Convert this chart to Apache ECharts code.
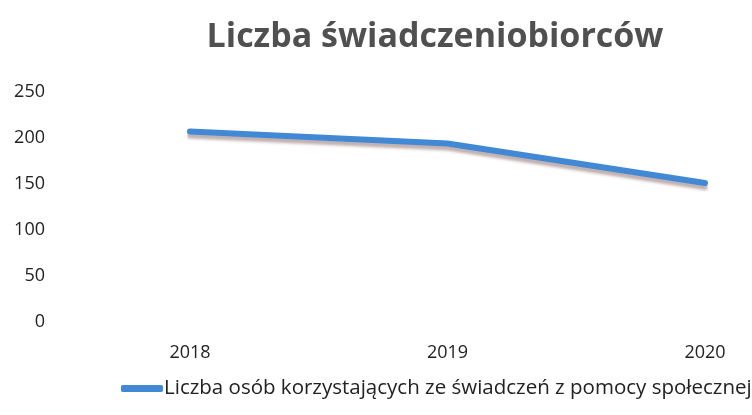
<!DOCTYPE html>
<html>
<head>
<meta charset="utf-8">
<script src="https://cdn.jsdelivr.net/npm/echarts@6/dist/echarts.min.js"></script>
<style>
  html, body { margin: 0; padding: 0; background: #fff; }
  #chart { width: 752px; height: 415px; }
</style>
</head>
<body>
<div id="chart"></div>
<script>
// dane z wykresu
const years = ['2018', '2019', '2020'];
const beneficiaries = [207, 194, 151];
const seriesName = 'Liczba osób korzystających ze świadczeń z pomocy społecznej';

const chart = echarts.init(document.getElementById('chart'));

chart.setOption({
    animation: false,
    textStyle: {fontFamily: 'Open Sans'},
    title: {
        text: 'Liczba świadczeniobiorców',
        left: 430,
        textAlign: 'center',
        top: 15,
        textStyle: {fontFamily: 'Open Sans', fontSize: 34, fontWeight: 'bold', color: '#505050'}
    },
    grid: {left: 190, right: 47, top: 92, bottom: 93},
    legend: {
        data: [seriesName],
        bottom: 11,
        left: 116,
        itemWidth: 42,
        itemHeight: 7,
        itemGap: 0,
        icon: 'roundRect',
        textStyle: {fontSize: 20.5, color: '#222', padding: [0, 0, 0, -4]}
    },
    xAxis: {
        type: 'category',
        data: years,
        boundaryGap: false,
        axisLine: {show: false},
        axisTick: {show: false},
        axisLabel: {fontSize: 18, color: '#222', margin: 22}
    },
    yAxis: {
        type: 'value',
        min: 0,
        max: 250,
        interval: 50,
        splitLine: {show: false},
        axisLabel: {fontSize: 18, color: '#222', margin: 145}
    },
    series: [{
        name: seriesName,
        type: 'line',
        data: beneficiaries,
        symbol: 'none',
        itemStyle: {color: '#4189d4'},
        lineStyle: {
            width: 6,
            color: '#4189d4',
            cap: 'round',
            shadowColor: 'rgba(140,110,110,0.55)',
            shadowOffsetY: 4,
            shadowBlur: 3
        }
    }]
});
</script>
</body>
</html>
